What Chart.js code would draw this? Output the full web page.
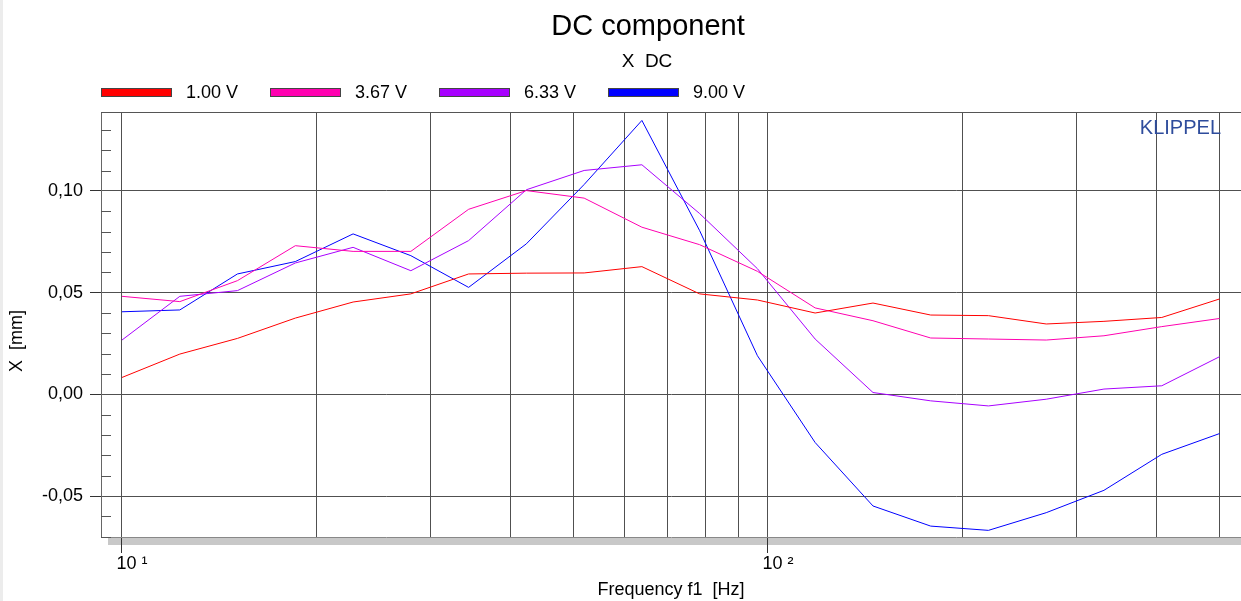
<!DOCTYPE html>
<html>
<head>
<meta charset="utf-8">
<script src="https://cdn.jsdelivr.net/npm/chart.js@4/dist/chart.umd.min.js"></script>
<style>
  body { margin: 0; background: #fff; }
  canvas { display: block; }
</style>
</head>
<body>
<canvas id="dcChart" width="1241" height="601"></canvas>
<script>
// Data
const freqs = [10, 12.29, 15.09, 18.55, 22.79, 28.0, 34.4, 42.26, 51.93, 63.8,
               78.38, 96.3, 118.3, 145.4, 178.6, 219.4, 269.6, 331.2, 407.0, 500];
const seriesLabels = ['1.00 V', '3.67 V', '6.33 V', '9.00 V'];
const seriesColors = ['#ff0000', '#ff00b0', '#a800ff', '#0000ff'];
const dc100 = [0.0083, 0.0198, 0.0275, 0.0375, 0.0454, 0.0494, 0.0592, 0.0596, 0.0597, 0.0628,
               0.0494, 0.0464, 0.0400, 0.0449, 0.0390, 0.0387, 0.0346, 0.0359, 0.0378, 0.0469];
const dc367 = [0.0482, 0.0456, 0.0559, 0.0731, 0.0703, 0.0703, 0.0910, 0.1002, 0.0965, 0.0822,
               0.0736, 0.0605, 0.0425, 0.0362, 0.0277, 0.0272, 0.0267, 0.0288, 0.0333, 0.0373];
const dc633 = [0.0267, 0.0482, 0.0510, 0.0646, 0.0723, 0.0608, 0.0756, 0.1006, 0.1101, 0.1129,
               0.0889, 0.0618, 0.0272, 0.0009, -0.0032, -0.0057, -0.0024, 0.0026, 0.0042, 0.0185];
const dc900 = [0.0406, 0.0415, 0.0592, 0.0653, 0.0789, 0.0682, 0.0526, 0.0740, 0.1032, 0.1347,
               0.0805, 0.0190, -0.0237, -0.0549, -0.0648, -0.0669, -0.0582, -0.0472, -0.0295, -0.0193];

// Axis ticks
const xGridTicks = [10, 20, 30, 40, 50, 60, 70, 80, 90, 100, 200, 300, 400, 500];
const xLabelValues = [10, 100];
const xLabelTexts = ['10 \u00b9', '10 \u00b2'];
const yMajorTicks = [-0.05, 0, 0.05, 0.10];
const yTickLabels = ['-0,05', '0,00', '0,05', '0,10'];
const yMinorTicks = [-0.07, -0.06, -0.04, -0.03, -0.02, -0.01, 0.01, 0.02, 0.03, 0.04,
                     0.06, 0.07, 0.08, 0.09, 0.11, 0.12, 0.13];

const FONT = "'Liberation Sans', Arial, sans-serif";
const seriesValues = [dc100, dc367, dc633, dc900];

const isMajorY = v => yMajorTicks.some(m => Math.abs(m - v) < 1e-9);

// Titles, legend, frame decorations
const decorations = {
    id: 'decorations',
    beforeDraw(chart) {
        const ctx = chart.ctx;
        const area = chart.chartArea;
        ctx.save();
        ctx.fillStyle = '#ececec';
        ctx.fillRect(0, 0, 3, chart.height);
        // shadow band under the frame
        ctx.fillStyle = '#c8c8c8';
        ctx.fillRect(108, area.bottom + 1, chart.width - 108, 7);
        ctx.restore();
    },
    afterDraw(chart) {
        const ctx = chart.ctx;
        const area = chart.chartArea;
        const y = chart.scales.y;
        ctx.save();

        // top frame line
        ctx.strokeStyle = '#555';
        ctx.lineWidth = 1;
        ctx.beginPath();
        ctx.moveTo(area.left, area.top + 0.5);
        ctx.lineTo(area.right, area.top + 0.5);
        ctx.stroke();

        // inward minor ticks
        ctx.strokeStyle = '#555';
        yMinorTicks.forEach(v => {
            const py = Math.round(y.getPixelForValue(v)) + 0.5;
            ctx.beginPath();
            ctx.moveTo(area.left, py);
            ctx.lineTo(area.left + 10, py);
            ctx.stroke();
        });

        ctx.fillStyle = '#000';
        ctx.textAlign = 'center';
        ctx.textBaseline = 'alphabetic';
        ctx.font = '29px ' + FONT;
        ctx.fillText('DC component', 648, 35);
        ctx.font = '19px ' + FONT;
        ctx.fillText('X  DC', 647, 67);

        // legend
        ctx.textAlign = 'left';
        ctx.font = '18px ' + FONT;
        seriesLabels.forEach((lbl, i) => {
            const bx = 101 + i * 169;
            ctx.fillStyle = seriesColors[i];
            ctx.fillRect(bx, 89, 70, 7);
            ctx.strokeStyle = '#444';
            ctx.strokeRect(bx + 0.5, 88.5, 70, 8);
            ctx.fillStyle = '#000';
            ctx.fillText(lbl, bx + 85, 98);
        });

        // y axis title
        ctx.save();
        ctx.translate(22, 341);
        ctx.rotate(-Math.PI / 2);
        ctx.textAlign = 'center';
        ctx.fillText('X  [mm]', 0, 0);
        ctx.restore();

        // watermark
        ctx.fillStyle = '#2e4c9c';
        ctx.textAlign = 'right';
        ctx.font = '20px ' + FONT;
        ctx.fillText('KLIPPEL', 1221, 134);

        ctx.restore();
    }
};

new Chart(document.getElementById('dcChart'), {
    type: 'line',
    data: {
        datasets: seriesValues.map((vals, i) => ({
            label: seriesLabels[i],
            data: vals.map((v, k) => ({ x: freqs[k], y: v })),
            borderColor: seriesColors[i],
            borderWidth: 1,
            pointRadius: 0,
            tension: 0,
            fill: false
        }))
    },
    options: {
        responsive: false,
        animation: false,
        layout: { padding: { top: 112, left: 0, right: 0, bottom: 0 } },
        plugins: {
            legend: { display: false },
            title: { display: false },
            tooltip: { enabled: false }
        },
        scales: {
            x: {
                type: 'logarithmic',
                min: 9.279,
                max: 539.8,
                afterBuildTicks: scale => { scale.ticks = xGridTicks.map(v => ({ value: v })); },
                afterFit: scale => { scale.height = 64; },
                border: { display: true, color: '#888', width: 1 },
                grid: {
                    color: '#505050',
                    lineWidth: 1,
                    drawTicks: true,
                    tickLength: 16,
                    tickColor: ctx => xLabelValues.includes(ctx.tick && ctx.tick.value) ? '#333' : 'rgba(0,0,0,0)'
                },
                ticks: {
                    autoSkip: false,
                    maxRotation: 0,
                    padding: 0,
                    labelOffset: 10,
                    color: '#000',
                    font: { family: FONT, size: 18 },
                    callback: value => {
                        const idx = xLabelValues.indexOf(value);
                        return idx >= 0 ? xLabelTexts[idx] : '';
                    }
                },
                title: {
                    display: true,
                    text: 'Frequency f1  [Hz]',
                    color: '#000',
                    font: { family: FONT, size: 18 },
                    padding: { top: 0, bottom: 0 }
                }
            },
            y: {
                min: -0.07016,
                max: 0.13885,
                afterBuildTicks: scale => {
                    scale.ticks = yMajorTicks.concat(yMinorTicks).sort((a, b) => a - b).map(v => ({ value: v }));
                },
                afterFit: scale => { scale.width = 101; },
                border: { display: true, color: '#666', width: 1 },
                grid: {
                    color: ctx => isMajorY(ctx.tick && ctx.tick.value) ? '#505050' : 'rgba(0,0,0,0)',
                    lineWidth: 1,
                    drawTicks: true,
                    tickLength: 11,
                    tickColor: ctx => isMajorY(ctx.tick && ctx.tick.value) ? '#333' : 'rgba(0,0,0,0)'
                },
                ticks: {
                    autoSkip: false,
                    padding: 7,
                    color: '#000',
                    font: { family: FONT, size: 18 },
                    callback: value => {
                        const idx = yMajorTicks.findIndex(m => Math.abs(m - value) < 1e-9);
                        return idx >= 0 ? yTickLabels[idx] : '';
                    }
                }
            }
        }
    },
    plugins: [decorations]
});
</script>
</body>
</html>
